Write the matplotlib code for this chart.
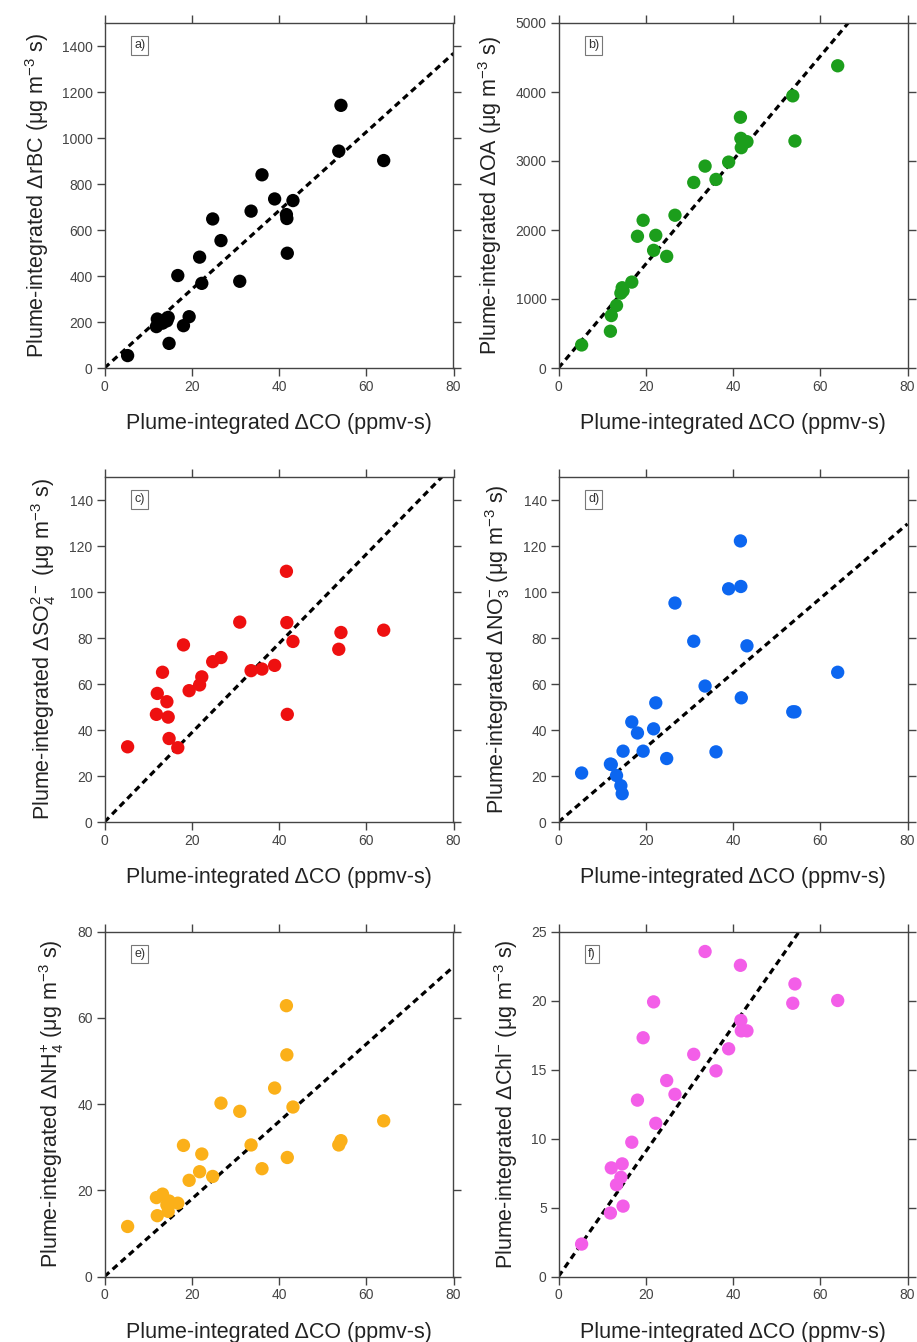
import matplotlib
matplotlib.use("Agg")
import matplotlib.pyplot as plt
import numpy as np

plt.rcParams['font.family'] = ['Liberation Sans', 'DejaVu Sans']
plt.rcParams['mathtext.fontset'] = 'custom'
plt.rcParams['mathtext.rm'] = 'Liberation Sans'
plt.rcParams['mathtext.it'] = 'Liberation Sans:italic'
plt.rcParams['mathtext.bf'] = 'Liberation Sans:bold'

# Plume-integrated ΔCO (ppmv-s), shared by all panels
co = [5.3, 11.9, 12.1, 13.3, 14.3, 14.6, 14.8, 16.8, 18.1, 19.4, 21.8, 22.3, 24.8,
      26.7, 31.0, 33.6, 36.1, 39.0, 41.7, 41.8, 41.9, 43.2, 53.7, 54.2, 64.0]

rbc = [54, 180, 213, 195, 205, 220, 107, 402, 184, 223, 482, 368, 648,
       554, 377, 682, 840, 735, 667, 650, 499, 728, 943, 1142, 902]
oa = [334, 533, 760, 906, 1085, 1163, 1120, 1245, 1909, 2141, 1705, 1923, 1618,
      2214, 2689, 2926, 2733, 2984, 3634, 3328, 3193, 3280, 3944, 3290, 4380]
so4 = [32.7, 46.8, 55.9, 65.1, 52.3, 45.6, 36.3, 32.3, 77.0, 57.1, 59.6, 63.1, 69.7,
       71.5, 86.9, 65.8, 66.5, 68.1, 109.0, 86.7, 46.8, 78.5, 75.1, 82.4, 83.4]
no3 = [21.3, 25.2, 25.0, 20.2, 15.8, 12.3, 30.8, 43.5, 38.7, 30.8, 40.5, 51.8, 27.6,
       95.2, 78.6, 59.1, 30.5, 101.4, 122.2, 102.4, 54.0, 76.6, 47.9, 47.9, 65.1]
nh4 = [11.6, 18.3, 14.1, 19.1, 16.6, 15.1, 17.5, 17.0, 30.4, 22.3, 24.3, 28.4, 23.2,
       40.2, 38.3, 30.5, 25.0, 43.7, 62.8, 51.4, 27.6, 39.3, 30.5, 31.5, 36.1]
chl = [2.35, 4.6, 7.87, 6.65, 7.19, 8.16, 5.1, 9.73, 12.78, 17.3, 19.9, 11.1, 14.2,
       13.2, 16.1, 23.55, 14.9, 16.5, 22.55, 18.56, 17.8, 17.8, 19.8, 21.2, 20.0]

# fitted slopes of dashed lines
slopes = [17.1, 75.3, 1.94, 1.62, 0.898, 0.453]

series = [rbc, oa, so4, no3, nh4, chl]
panel_labels = ['a)', 'b)', 'c)', 'd)', 'e)', 'f)']
ylabels = [r'Plume-integrated ΔrBC (μg m$^{-3}$ s)',
           r'Plume-integrated ΔOA (μg m$^{-3}$ s)',
           r'Plume-integrated ΔSO$_4^{2-}$ (μg m$^{-3}$ s)',
           r'Plume-integrated ΔNO$_3^{-}$ (μg m$^{-3}$ s)',
           r'Plume-integrated ΔNH$_4^{+}$ (μg m$^{-3}$ s)',
           r'Plume-integrated ΔChl$^{-}$ (μg m$^{-3}$ s)']
ylims = [1500, 5000, 150, 150, 80, 25]
yticks = [np.arange(0, 1401, 200), np.arange(0, 5001, 1000), np.arange(0, 141, 20),
          np.arange(0, 141, 20), np.arange(0, 81, 20), np.arange(0, 26, 5)]
colors = ['#000000', '#1c9e1c', '#ee1010', '#0c66f0', '#fbb019', '#f35ee8']
xlabel = 'Plume-integrated ΔCO (ppmv-s)'

W, H = 917, 1342
fig = plt.figure(figsize=(W / 100, H / 100), dpi=100)

lefts = [104.5, 558.5]
bottoms = [368, 822, 1276.5]
aw, ah = 349, 345

for i in range(6):
    r, c = divmod(i, 2)
    ax = fig.add_axes([lefts[c] / W, 1 - bottoms[r] / H, aw / W, ah / H])
    ax.set_xlim(0, 80)
    ax.set_ylim(0, ylims[i])
    ax.set_xticks([0, 20, 40, 60, 80])
    ax.set_yticks(yticks[i])
    xx = np.array([0, 80])
    ax.plot(xx, slopes[i] * xx, color='black', lw=2.3, ls=(0, (2.0, 1.4)), zorder=2)
    ax.scatter(co, series[i], s=92, color=colors[i], edgecolors='none', zorder=3)
    for sp in ax.spines.values():
        sp.set_color('#444444')
        sp.set_linewidth(1.0)
    ax.tick_params(direction='out', length=6, width=1, color='#444444',
                   top=True, right=True, labelsize=10, labelcolor='#444444', pad=2.5)
    ax.set_xlabel(xlabel, fontsize=15.5, color='#222222', labelpad=14)
    ax.set_ylabel(ylabels[i], fontsize=15.5, color='#222222', labelpad=8)
    ax.text(0.085, 0.935, panel_labels[i], transform=ax.transAxes, fontsize=9,
            ha='left', va='center', color='#333333',
            bbox=dict(boxstyle='square,pad=0.25', fc='white', ec='#777777', lw=0.8))

fig.savefig('out.png', dpi=100)
